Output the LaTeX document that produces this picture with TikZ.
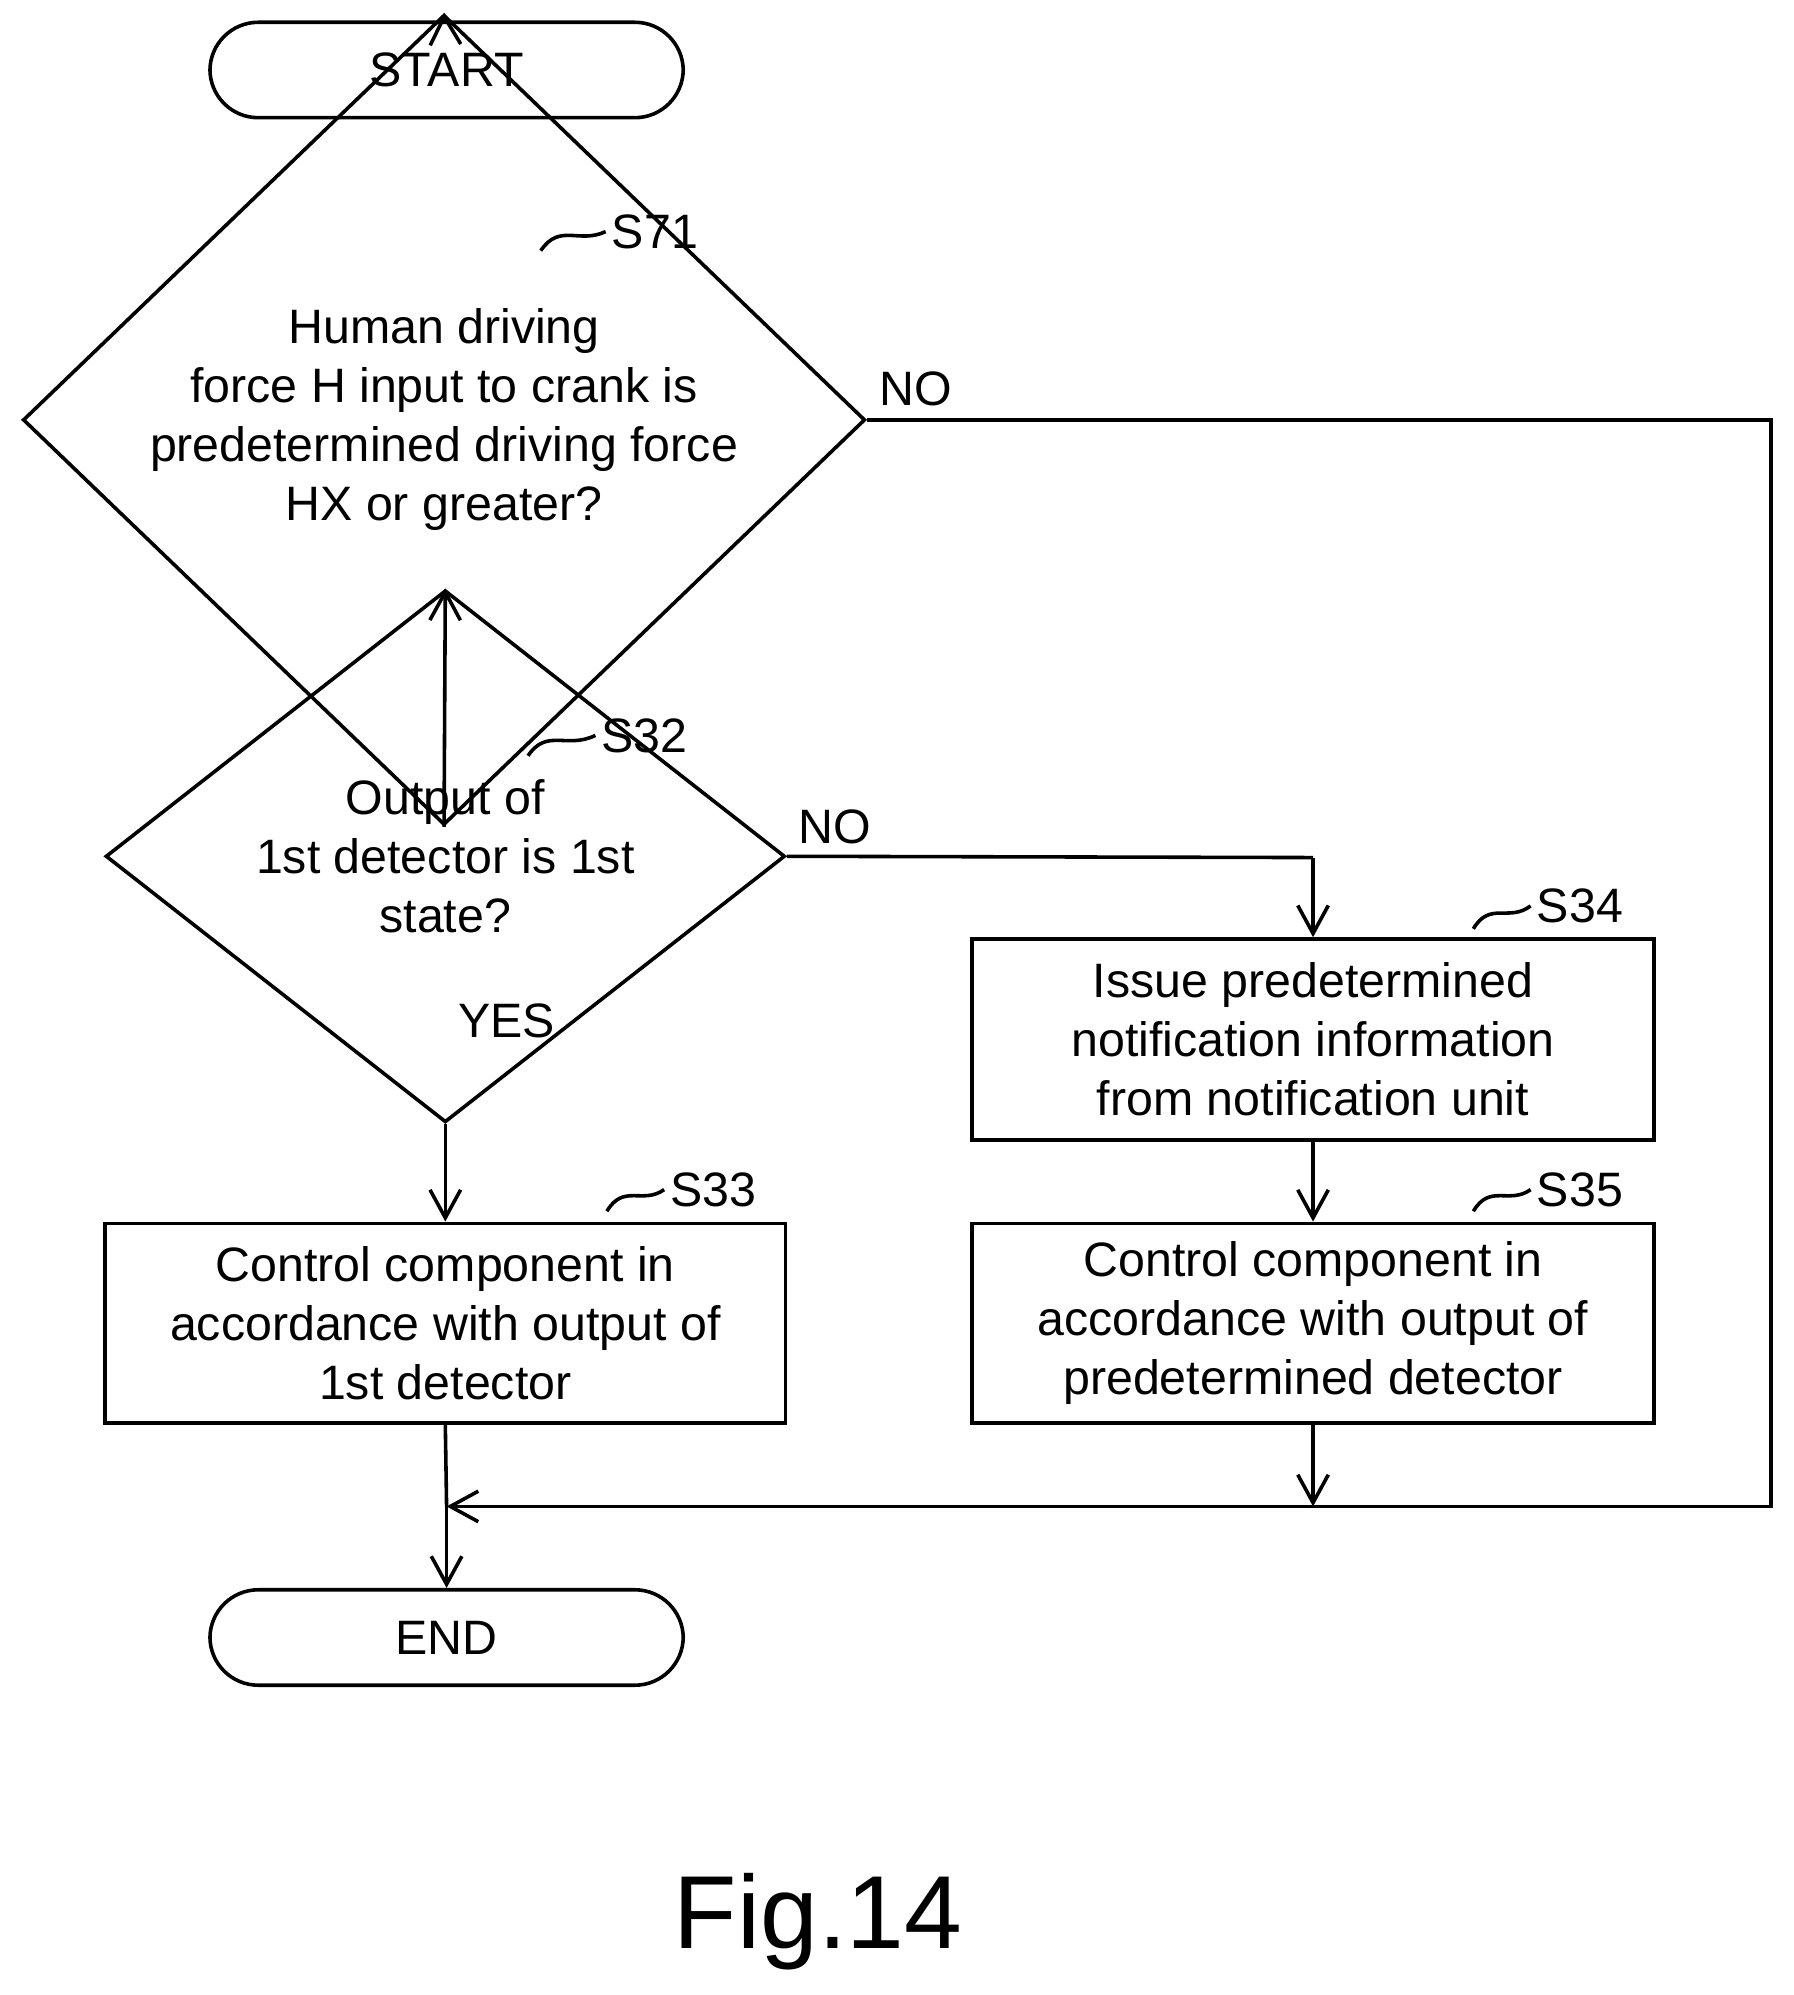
\documentclass[tikz,border=0pt]{standalone}
\usepackage{fontspec}
\setmainfont{Liberation Sans}
\usetikzlibrary{shapes.geometric,arrows.meta}
\begin{document}
\begin{tikzpicture}[x=0.025cm,y=-0.025cm,
  every node/.style={font=\fontsize{27}{33}\selectfont},
  ln/.style={line width=2pt},
  arr/.style={ln,-{Straight Barb[length=0.55cm,width=0.6cm,line width=2pt]}},
  box/.style={draw,ln,rectangle,align=center,inner sep=0pt},
  term/.style={draw,ln,rounded corners=0.95cm,minimum width={372*0.025cm},minimum height={75*0.025cm}},
  dia/.style={draw,ln,diamond,align=center,inner sep=0pt},
  sq/.style={ln}]
\useasboundingbox (0,0) rectangle (1410,1568);
\node[term] (start) at (351,55) {START};
\node[dia,minimum width={662*0.025cm},minimum height={346*0.025cm}] (d1) at (349,330) {Human driving\\force H input to crank is\\predetermined driving force\\HX or greater?};
\node[dia,minimum width={534*0.025cm},minimum height={206*0.025cm}] (d2) at (350,673) {Output of\\1st detector is 1st\\state?};
\node[box,minimum width={535*0.025cm},minimum height={157*0.025cm}] (s33) at (350,1040) {Control component in\\accordance with output of\\1st detector};
\node[box,minimum width={536*0.025cm},minimum height={158*0.025cm}] (s34) at (1032,817) {Issue predetermined\\notification information\\from notification unit};
\node[box,minimum width={536*0.025cm},minimum height={157*0.025cm}] (s35) at (1032,1040) {Control component in\\accordance with output of\\predetermined detector};
\node[term] (end) at (351,1287) {END};
\coordinate (m) at (351,1184);
\coordinate (mr) at (1032,1184);
\coordinate (rt) at (1392,330);
\coordinate (rb) at (1392,1184);
\coordinate (n2) at (1032,674);
\draw[arr] (start) -- (d1.north);
\draw[arr] (d1.south) -- (d2.north);
\draw[arr] (d2.south) -- (s33.north);
\draw[ln] (d2.east) -- (n2);
\draw[arr] (n2) -- (s34.north);
\draw[arr] (s34) -- (s35);
\draw[arr] (s35.south) -- (mr);
\draw[ln] (d1.east) -- (rt) -- (rb) -- (mr);
\draw[arr] (mr) -- (m);
\draw[ln] (s33.south) -- (m);
\draw[arr] (m) -- (end.north);
\node at (720,306) {NO};
\node at (656,650) {NO};
\node at (398,802) {YES};
\node[anchor=west] (l71) at (476,182) {S71};
\draw[sq] (425,197) .. controls (440,175) and (455,192) .. (l71.west);
\node[anchor=west] (l32) at (468,578) {S32};
\draw[sq] (415,594) .. controls (430,572) and (445,589) .. (l32.west);
\node[anchor=west] (l33) at (522,935) {S33};
\draw[sq] (477,952) .. controls (490,930) and (505,947) .. (l33.west);
\node[anchor=west] (l34) at (1203,712) {S34};
\draw[sq] (1158,730) .. controls (1171,708) and (1186,725) .. (l34.west);
\node[anchor=west] (l35) at (1203,935) {S35};
\draw[sq] (1158,952) .. controls (1171,930) and (1186,947) .. (l35.west);
\node[font=\fontsize{58}{60}\selectfont] (fig) at (643,1510) {Fig.14};
\end{tikzpicture}
\end{document}
